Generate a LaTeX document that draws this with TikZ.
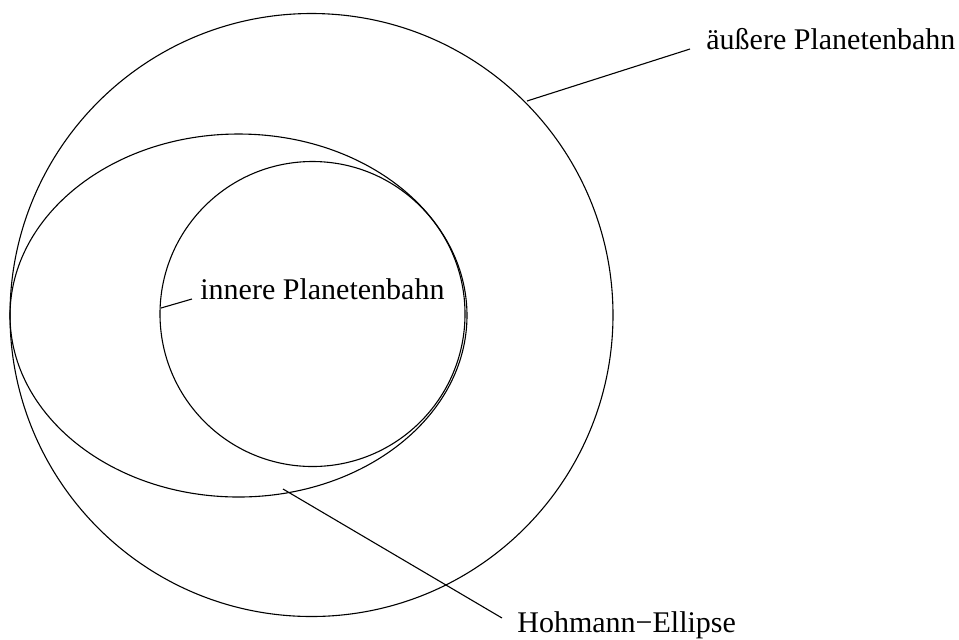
\documentclass[tikz,border=0pt]{standalone}
\usepackage{fontspec}
\setmainfont{Liberation Serif}

\begin{document}
\begin{tikzpicture}[
    x=0.5pt, y=-0.5pt,
    bahn/.style={draw, line width=0.55pt},
    zeiger/.style={draw, line width=0.55pt},
    beschriftung/.style={anchor=base west, inner ysep=0pt, font=\fontsize{15}{18}\selectfont}
]
\useasboundingbox (0,0) rectangle (959,639);
\draw[bahn] (311.5,315) circle [radius=301.5];
\draw[bahn] (312.5,314) circle [radius=152.5];
\draw[bahn] (238.5,315.5) ellipse [x radius=228.5, y radius=181.5];
\node[beschriftung, inner xsep=8pt] (aussen) at (690,49) {äußere Planetenbahn};
\node[beschriftung, inner xsep=4pt] (innen) at (192,299) {innere Planetenbahn};
\node[beschriftung, inner xsep=7.5pt] (hohmann) at (502,632) {Hohmann−Ellipse};
\coordinate (aussenbahn) at (527,101);
\coordinate (innenbahn) at (161,308);
\coordinate (ellipsenbahn) at (283,489);
\draw[zeiger] (aussenbahn) -- (aussen.base west);
\draw[zeiger] (innenbahn) -- (innen.base west);
\draw[zeiger] (ellipsenbahn) -- ([yshift=7pt]hohmann.base west);
\end{tikzpicture}
\end{document}
